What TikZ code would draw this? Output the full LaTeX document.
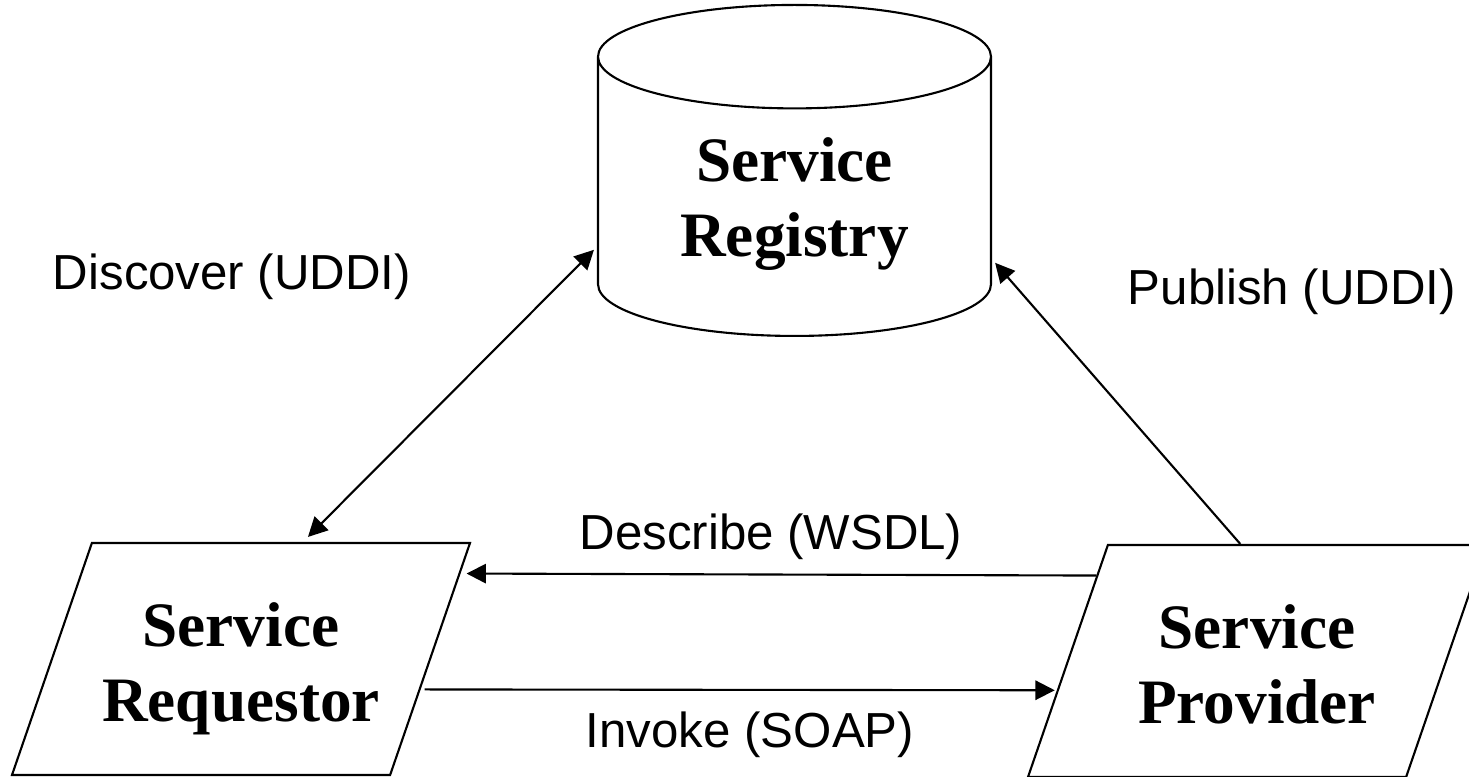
\documentclass[tikz,border=0pt]{standalone}
\usepackage{fontspec}
\setmainfont{Liberation Serif}
\newfontfamily\labelfont{Liberation Sans}
\usetikzlibrary{shapes.geometric, arrows.meta, calc}

\tikzset{
  >={Triangle[length=5.5pt, width=5.5pt]},
  party/.style={draw, trapezium, trapezium left angle=71, trapezium right angle=109,
    trapezium stretches body, minimum width=4.58cm, inner xsep=0pt, inner ysep=1.16cm},
  title/.style={align=center, text depth=4pt, font=\fontsize{18}{21.5}\selectfont\bfseries},
  msg/.style={font=\labelfont\fontsize{14}{17}\selectfont}
}

\begin{document}
\begin{tikzpicture}[line width=0.6pt]
\useasboundingbox (0,0) rectangle (14.69,7.76);
\clip (0,0) rectangle (14.69,7.76);

\node[draw, cylinder, shape border rotate=90, aspect=0.453, minimum width=3.93cm,
  minimum height=3.31cm, inner sep=0pt, anchor=south, title, text depth=0pt](Reg) at (7.945,4.39) {Service\\Registry};

\node[party](Req) at (2.41,1.17) {};
\node[title, yshift=-0.1cm](Req_txt) at (Req.center) {Service\\Requestor};
\node[party](Prov) at (12.57,1.15) {};
\node[title, yshift=-0.1cm](Prov_txt) at (Prov.center) {Service\\Provider};

% points on the slanted and top edges
\coordinate (Req_top) at ($(Req.top left corner)!0.57!(Req.top right corner)$);
\coordinate (Prov_top) at ($(Prov.top left corner)!0.35!(Prov.top right corner)$);
\coordinate (Req_desc) at ($(Req.top right corner)!0.135!(Req.bottom right corner)$);
\coordinate (Prov_desc) at ($(Prov.top left corner)!0.135!(Prov.bottom left corner)$);
\coordinate (Req_inv) at ($(Req.top right corner)!0.63!(Req.bottom right corner)$);
\coordinate (Prov_inv) at ($(Prov.top left corner)!0.625!(Prov.bottom left corner)$);

\draw[<->] ([yshift=0.05cm]Req_top) to ([xshift=-0.03cm,yshift=-0.53cm]Reg.west);
\node[msg](L_disc) at (2.32,4.99) {Discover (UDDI)};

\draw[->] (Prov_top) to ([xshift=0.03cm,yshift=-0.66cm]Reg.east);
\node[msg](L_pub) at (12.92,4.84) {Publish (UDDI)};

\draw[->] (Prov_desc) to ([xshift=0.06cm]Req_desc);
\node[msg](L_desc) at (7.71,2.39) {Describe (WSDL)};

\draw[->] ([xshift=0.04cm]Req_inv) to ([xshift=-0.02cm]Prov_inv);
\node[msg](L_inv) at (7.50,0.41) {Invoke (SOAP)};

\end{tikzpicture}
\end{document}
